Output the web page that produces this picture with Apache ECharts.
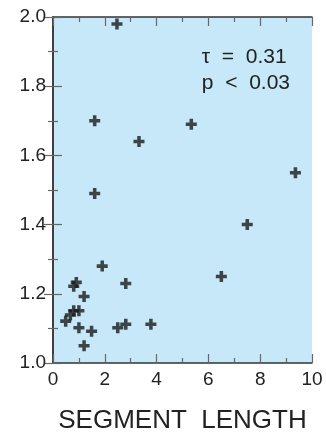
<!DOCTYPE html>
<html>
<head>
<meta charset="utf-8">
<style>
  html, body { margin: 0; padding: 0; background: #fff; }
  #chart { width: 326px; height: 438px; }
</style>
<script src="https://cdn.jsdelivr.net/npm/echarts@6/dist/echarts.min.js"></script>
</head>
<body>
<div id="chart"></div>
<script>
// segment length vs value
const segmentLength = [2.47, 1.61, 3.32, 1.61, 5.34, 9.36, 7.5, 6.5, 1.9, 0.9, 0.8, 1.2, 1.0, 0.8, 0.67, 0.49, 1.0, 1.49, 1.2, 2.81, 2.5, 2.81, 3.78];
const ratio = [1.98, 1.70, 1.64, 1.49, 1.69, 1.55, 1.40, 1.25, 1.28, 1.233, 1.222, 1.192, 1.151, 1.151, 1.139, 1.121, 1.102, 1.092, 1.05, 1.23, 1.102, 1.112, 1.112];
const statLines = ["\u03c4  =  0.31", "p  <  0.03"];
const xTitle = "SEGMENT  LENGTH";

const font = "Liberation Sans, Arial, sans-serif";
const plus = "path://M3.4,0H6.6V3.4H10V6.6H6.6V10H3.4V6.6H0V3.4H3.4Z";

const chart = echarts.init(document.getElementById("chart"));

const tickCommon = {
  axisLine: { show: true, lineStyle: { color: "#333", width: 1.5 } },
  axisTick: { show: true, inside: true, length: 9, lineStyle: { color: "#666", width: 1.2 } },
  minorTick: { show: true, splitNumber: 2, length: 5, lineStyle: { color: "#666", width: 1.2 } },
  splitLine: { show: false },
};

chart.setOption({
  animation: false,
  grid: {
    left: 53, right: 14, top: 17, bottom: 75,
    outerBoundsMode: "none", containLabel: false,
    show: true, backgroundColor: "#c7e8f8", borderWidth: 0,
  },
  xAxis: [
    Object.assign({
      type: "value", min: 0, max: 10, interval: 2, position: "bottom",
      name: xTitle, nameLocation: "middle", nameGap: 45,
      nameTextStyle: { fontFamily: font, fontSize: 26, color: "#222" },
      axisLabel: { fontFamily: font, fontSize: 19, color: "#222", margin: 7 },
    }, tickCommon),
    Object.assign({
      type: "value", min: 0, max: 10, interval: 2, position: "top",
      axisLabel: { show: false },
    }, tickCommon),
  ],
  yAxis: [
    Object.assign({
      type: "value", min: 1.0, max: 2.0, interval: 0.2, position: "left",
      axisLabel: { fontFamily: font, fontSize: 19, color: "#222", margin: 7,
        formatter: (v) => v.toFixed(1) },
    }, tickCommon),
    Object.assign({
      type: "value", min: 1.0, max: 2.0, interval: 0.2, position: "right",
      axisLabel: { show: false },
    }, tickCommon),
  ],
  graphic: [
    {
      type: "text", right: 36, top: 44,
      style: { text: statLines.join("\n"), fontFamily: font, fontSize: 21, lineHeight: 26, fill: "#222", align: "right" },
    },
  ],
  series: [
    {
      type: "scatter",
      symbol: plus,
      symbolSize: 11,
      itemStyle: { color: "#1a1a1a" },
      data: segmentLength.map((x, i) => [x, ratio[i]]),
    },
  ],
});
</script>
</body>
</html>
